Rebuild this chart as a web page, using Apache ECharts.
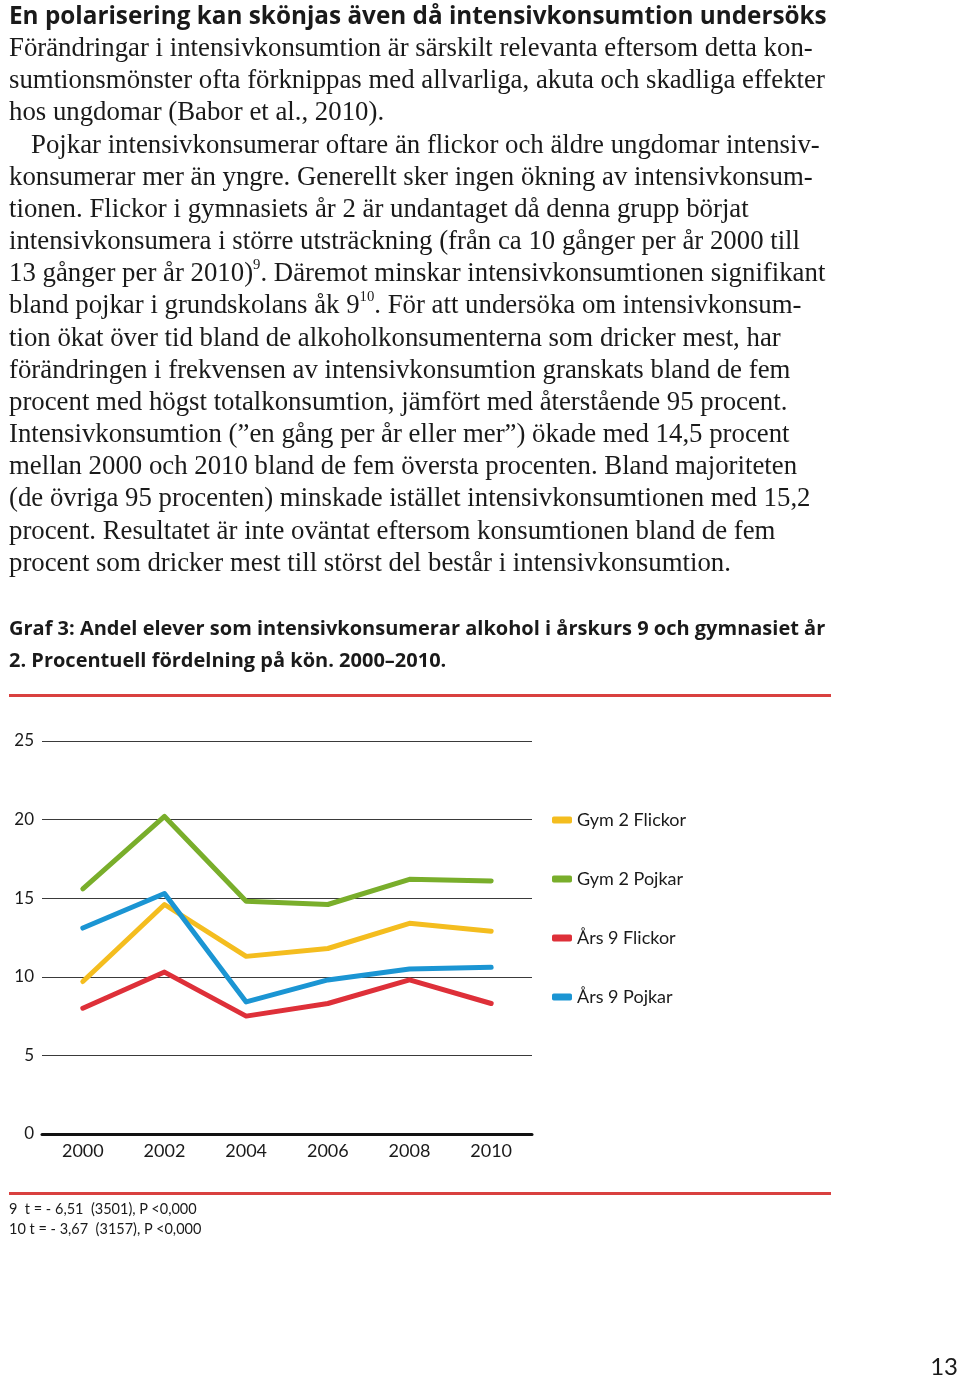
<!DOCTYPE html>
<html>
<head>
<meta charset="utf-8">
<script src="https://cdn.jsdelivr.net/npm/echarts@6/dist/echarts.min.js"></script>
<style>
  html, body { margin: 0; padding: 0; background: #fff; }
  body { width: 960px; height: 1378px; position: relative; overflow: hidden; }
  #chart { position: absolute; left: 0; top: 0; width: 960px; height: 1378px; }
  .t { position: absolute; left: 9px; white-space: nowrap; font-family: "Liberation Serif", "Times New Roman", serif; font-size: 26.8px; line-height: 32px; color: #1a1a1a; }
  .h { font-family: "Open Sans", Lato, sans-serif; font-weight: bold; font-size: 24.3px; }
  .cap { position: absolute; left: 9px; white-space: nowrap; font-family: "Open Sans", Lato, sans-serif; font-weight: bold; font-size: 20px; line-height: 24px; color: #1a1a1a; }
  .fn { position: absolute; left: 9px; white-space: nowrap; font-family: Lato, sans-serif; font-size: 14.5px; line-height: 18px; color: #1a1a1a; }
  .rule { position: absolute; left: 9px; width: 822px; height: 3px; background: #d9403f; }
  sup { font-size: 55%; line-height: 0; vertical-align: 0.8em; }
  .pg { position: absolute; right: 2px; top: 1352px; font-family: Lato, sans-serif; font-size: 24px; line-height: 28px; color: #1a1a1a; }
</style>
</head>
<body>
<div id="chart"></div>
<div class="t h" style="top:-1px">En polarisering kan skönjas även då intensivkonsumtion undersöks</div>
<div class="t" style="top:31px">Förändringar i intensivkonsumtion är särskilt relevanta eftersom detta kon-</div>
<div class="t" style="top:63px">sumtionsmönster ofta förknippas med allvarliga, akuta och skadliga effekter</div>
<div class="t" style="top:95px">hos ungdomar (Babor et al., 2010).</div>
<div class="t" style="top:128px; left:31px">Pojkar intensivkonsumerar oftare än flickor och äldre ungdomar intensiv-</div>
<div class="t" style="top:160px">konsumerar mer än yngre. Generellt sker ingen ökning av intensivkonsum-</div>
<div class="t" style="top:192px">tionen. Flickor i gymnasiets år 2 är undantaget då denna grupp börjat</div>
<div class="t" style="top:224px">intensivkonsumera i större utsträckning (från ca 10 gånger per år 2000 till</div>
<div class="t" style="top:256px">13 gånger per år 2010)<sup>9</sup>. Däremot minskar intensivkonsumtionen signifikant</div>
<div class="t" style="top:288px">bland pojkar i grundskolans åk 9<sup>10</sup>. För att undersöka om intensivkonsum-</div>
<div class="t" style="top:321px">tion ökat över tid bland de alkoholkonsumenterna som dricker mest, har</div>
<div class="t" style="top:353px">förändringen i frekvensen av intensivkonsumtion granskats bland de fem</div>
<div class="t" style="top:385px">procent med högst totalkonsumtion, jämfört med återstående 95 procent.</div>
<div class="t" style="top:417px">Intensivkonsumtion (”en gång per år eller mer”) ökade med 14,5 procent</div>
<div class="t" style="top:449px">mellan 2000 och 2010 bland de fem översta procenten. Bland majoriteten</div>
<div class="t" style="top:481px">(de övriga 95 procenten) minskade istället intensivkonsumtionen med 15,2</div>
<div class="t" style="top:514px">procent. Resultatet är inte oväntat eftersom konsumtionen bland de fem</div>
<div class="t" style="top:546px">procent som dricker mest till störst del består i intensivkonsumtion.</div>

<div class="cap" style="top:616px">Graf 3: Andel elever som intensivkonsumerar alkohol i årskurs 9 och gymnasiet år</div>
<div class="cap" style="top:648px">2. Procentuell fördelning på kön. 2000–2010.</div>
<div class="rule" style="top:694px"></div>
<div class="rule" style="top:1192px"></div>
<div class="fn" style="top:1200px">9&nbsp; t = - 6,51&nbsp; (3501), P &lt;0,000</div>
<div class="fn" style="top:1220px">10 t = - 3,67&nbsp; (3157), P &lt;0,000</div>
<div class="pg">13</div>

<script>
const years = ['2000', '2002', '2004', '2006', '2008', '2010'];
const yTicks = [0, 5, 10, 15, 20, 25];
const seriesNames = ['Gym 2 Flickor', 'Gym 2 Pojkar', 'Års 9 Flickor', 'Års 9 Pojkar'];
const gym2Flickor = [9.7, 14.6, 11.3, 11.8, 13.4, 12.9];
const gym2Pojkar = [15.6, 20.2, 14.8, 14.6, 16.2, 16.1];
const ars9Flickor = [8.0, 10.3, 7.5, 8.3, 9.8, 8.3];
const ars9Pojkar = [13.1, 15.3, 8.4, 9.8, 10.5, 10.6];

const colors = ['#f4bd1f', '#79ae2b', '#de3039', '#1b95d3'];
const dataSets = [gym2Flickor, gym2Pojkar, ars9Flickor, ars9Pojkar];

const chart = echarts.init(document.getElementById('chart'), null, { renderer: 'canvas' });
chart.setOption({
  animation: false,
  backgroundColor: 'transparent',
  grid: { left: 42, top: 741, width: 490, height: 393, containLabel: false },
  legend: {
    orient: 'vertical',
    left: 552,
    top: 810,
    padding: 0,
    itemWidth: 20,
    itemHeight: 7,
    itemGap: 39,
    icon: 'roundRect',
    data: seriesNames,
    textStyle: { fontFamily: 'Lato', fontSize: 18, color: '#1a1a1a', lineHeight: 20 }
  },
  xAxis: {
    type: 'category',
    data: years,
    boundaryGap: true,
    axisLine: { show: true, lineStyle: { color: '#111', width: 3 } },
    axisTick: { show: false },
    axisLabel: { fontFamily: 'Lato', fontSize: 18, color: '#1a1a1a', margin: 8 }
  },
  yAxis: {
    type: 'value',
    min: 0,
    max: 25,
    interval: 5,
    axisLine: { show: false },
    axisTick: { show: false },
    splitLine: { show: true, lineStyle: { color: '#3a3a3a', width: 1.2 } },
    axisLabel: { fontFamily: 'Lato', fontSize: 17, color: '#1a1a1a', margin: 8,
      formatter: v => yTicks.includes(v) ? String(v) : '' }
  },
  series: seriesNames.map((n, i) => ({
    name: n,
    type: 'line',
    data: dataSets[i],
    symbol: 'none',
    color: colors[i],
    lineStyle: { width: 5, color: colors[i], cap: 'round', join: 'round' },
    itemStyle: { color: colors[i] }
  }))
});
</script>
</body>
</html>
